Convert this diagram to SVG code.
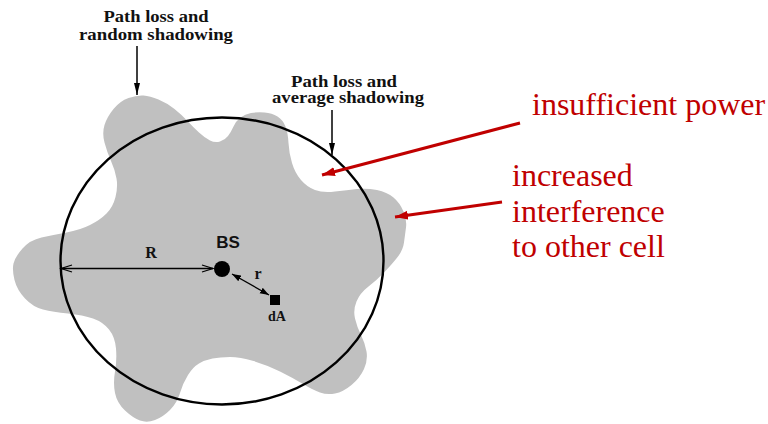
<svg xmlns="http://www.w3.org/2000/svg" width="768" height="424" viewBox="0 0 768 424">
<style>
.lbl{font-family:"Liberation Serif","Times New Roman",serif;font-weight:bold;font-size:16px;fill:#111}
.sym{font-family:"Liberation Serif","Times New Roman",serif;font-weight:bold;fill:#111}
.red{font-family:"Liberation Serif","Times New Roman",serif;font-size:32px;fill:#C00000}
.blk{stroke:#000;fill:none}
.redln{stroke:#C00000;stroke-width:3;fill:none}
</style>
<defs>
<marker id="ahb" markerUnits="userSpaceOnUse" markerWidth="12" markerHeight="6" refX="12" refY="3" orient="auto"><path d="M0,0 L12,3 L0,6 z" fill="#000"/></marker>
<marker id="ahr" markerUnits="userSpaceOnUse" markerWidth="14" markerHeight="10" refX="13" refY="4.5" orient="auto"><path d="M0,0 L13,4.5 L0,9 z" fill="#C00000"/></marker>
<marker id="chev" markerUnits="userSpaceOnUse" markerWidth="14" markerHeight="10" refX="12" refY="4.5" orient="auto-start-reverse"><path d="M1,1 L12,4.5 L1,8" fill="none" stroke="#000" stroke-width="1.3"/></marker>
<marker id="ahs" markerUnits="userSpaceOnUse" markerWidth="10" markerHeight="7" refX="9" refY="3.2" orient="auto-start-reverse"><path d="M0,0 L9,3.2 L0,6.4 z" fill="#000"/></marker>
</defs>
<rect width="768" height="424" fill="#fff"/>
<g id="coverage">
<path fill="#C0C0C0" d="M128.5,98 Q137,95 143.5,95.5 Q150,96 158.5,99.5 Q167,103 174.5,109 Q182,115 187.5,121 Q193,127 199,132.5 Q205,138 210,140.5 Q215,143 220,141.5 Q225,140 228,136 Q231,132 233.5,126.5 Q236,121 240.5,117.5 Q245,114 251,113 Q257,112 264.5,112.5 Q272,113 277.5,116.5 Q283,120 285.5,126.5 Q288,133 288.5,143 Q289,153 292,163 Q295,173 301,180 Q307,187 315,190 Q323,193 335,191.5 Q347,190 357,189 Q367,188 377,190 Q387,192 393.5,197.5 Q400,203 403.5,211.5 Q407,220 406,227.5 Q405,235 404,242.5 Q403,250 398,256.5 Q393,263 385,271.5 Q377,280 368.5,286.5 Q360,293 356.5,301.5 Q353,310 355,318.5 Q357,327 361,335 Q365,343 366.5,351.5 Q368,360 364,369 Q360,378 351.5,385 Q343,392 335,393.5 Q327,395 320,392.5 Q313,390 303,384 Q293,378 280,371.5 Q267,365 253.5,361 Q240,357 230,357 Q220,357 212.5,358.5 Q205,360 199,363.5 Q193,367 188,375 Q183,383 180,393 Q177,403 170,410 Q163,417 155,420 Q147,423 140,420.5 Q133,418 125,410.5 Q117,403 115,393 Q113,383 115,371.5 Q117,360 116,348.5 Q115,337 109,329.5 Q103,322 93,318.5 Q83,315 68,313.5 Q53,312 43,309.5 Q33,307 25,298.5 Q17,290 14.5,280 Q12,270 13.5,263.5 Q15,257 22.5,248.5 Q30,240 41.5,237.5 Q53,235 66.5,232.5 Q80,230 90,225 Q100,220 106.5,213.5 Q113,207 115.5,197 Q118,187 116.5,178.5 Q115,170 111,161 Q107,152 104.5,142.5 Q102,133 104.5,125 Q107,117 113.5,109 Q120,101 128.5,98 Z"/>
</g>
<g id="cell">
<ellipse cx="222" cy="261" rx="161.5" ry="143.5" fill="none" stroke="#000" stroke-width="2.4"/>
</g>
<g id="bs">
<circle cx="222" cy="269" r="8" fill="#000"/>
<text x="228" y="248" font-family="Liberation Sans, Arial, sans-serif" font-weight="bold" font-size="17" text-anchor="middle" fill="#111">BS</text>
</g>
<g id="dA">
<rect x="270" y="295" width="10" height="10" fill="#000"/>
<text class="sym" x="277" y="321" font-size="14" text-anchor="middle">dA</text>
</g>
<g id="label-random">
<text class="lbl" x="156" y="22" text-anchor="middle" textLength="105" lengthAdjust="spacingAndGlyphs">Path loss and</text>
<text class="lbl" x="156" y="40" text-anchor="middle" textLength="154" lengthAdjust="spacingAndGlyphs">random shadowing</text>
</g>
<g id="label-average">
<text class="lbl" x="344" y="87" text-anchor="middle" textLength="106" lengthAdjust="spacingAndGlyphs">Path loss and</text>
<text class="lbl" x="348" y="103" text-anchor="middle" textLength="152" lengthAdjust="spacingAndGlyphs">average shadowing</text>
</g>
<g id="label-power">
<text class="red" x="532" y="115">insufficient power</text>
</g>
<g id="label-interference">
<text class="red" x="512" y="186">increased</text>
<text class="red" x="512" y="222">interference</text>
<text class="red" x="512" y="257">to other cell</text>
</g>
<g id="connectors">
<line class="blk" x1="137" y1="46" x2="137" y2="95" stroke-width="1.5" marker-end="url(#ahb)"/>
<line class="blk" x1="332" y1="110" x2="332" y2="155" stroke-width="1.5" marker-end="url(#ahb)"/>
<line class="redln" x1="520" y1="123" x2="322" y2="175" marker-end="url(#ahr)"/>
<line class="redln" x1="502" y1="202" x2="395" y2="217" marker-end="url(#ahr)"/>
<line class="blk" x1="61" y1="268.5" x2="213" y2="268.5" stroke-width="1.6" marker-start="url(#chev)" marker-end="url(#chev)"/>
<line class="blk" x1="232" y1="274" x2="269" y2="295" stroke-width="1.3" marker-start="url(#ahs)" marker-end="url(#ahs)"/>
<text class="sym" x="151" y="258" font-size="16" text-anchor="middle">R</text>
<text class="sym" x="258" y="279" font-size="16" text-anchor="middle">r</text>
</g>
</svg>
